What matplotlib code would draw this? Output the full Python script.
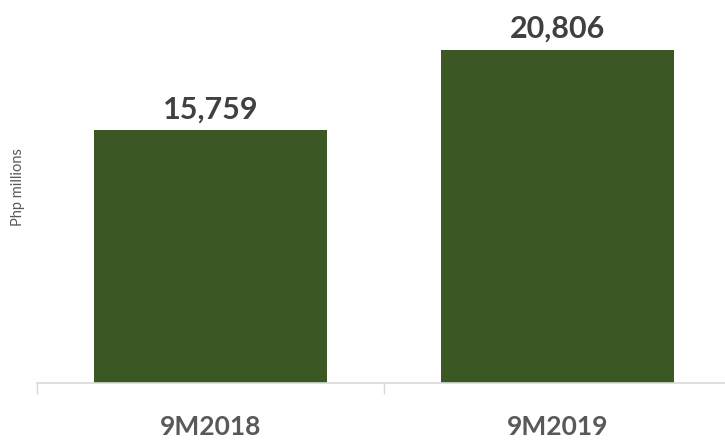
import matplotlib
matplotlib.use("Agg")
import matplotlib.pyplot as plt
from matplotlib.ticker import FixedLocator

categories = ["9M2018", "9M2019"]
values = [15759, 20806]
value_labels = ["15,759", "20,806"]

bar_color = "#3A5724"
font = "Lato"

fig = plt.figure(figsize=(7.25, 4.42), dpi=100)
ax = fig.add_axes([37 / 725, 1 - 383 / 442, 694 / 725, 383 / 442])

x = list(range(len(categories)))
ax.bar(x, values, width=0.67, color=bar_color, zorder=2)

for xi, v, lab in zip(x, values, value_labels):
    ax.annotate(lab, (xi, v), xytext=(0, 5), textcoords="offset points",
                ha="center", va="bottom", fontsize=22, fontweight="bold",
                color="#404040", family=font)

ax.set_xlim(-0.5, len(categories) - 0.5)
ax.set_ylim(0, 23900)

ax.set_xticks(x)
ax.set_xticklabels(categories, fontsize=19, fontweight="bold", color="#595959", family=font)
ax.tick_params(axis="x", which="major", length=0, pad=23)
ax.xaxis.set_minor_locator(FixedLocator([-0.5, 0.5, 1.5]))
ax.tick_params(axis="x", which="minor", length=8, color="#D9D9D9", width=1)
ax.set_yticks([])

for side in ["top", "right", "left"]:
    ax.spines[side].set_visible(False)
ax.spines["bottom"].set_color("#D9D9D9")
ax.spines["bottom"].set_linewidth(1.2)

fig.text(18 / 725, 1 - 187 / 442, "Php millions", rotation=90, ha="center", va="center",
         fontsize=10.5, color="#595959", family=font)

fig.savefig("out.png", dpi=100)
